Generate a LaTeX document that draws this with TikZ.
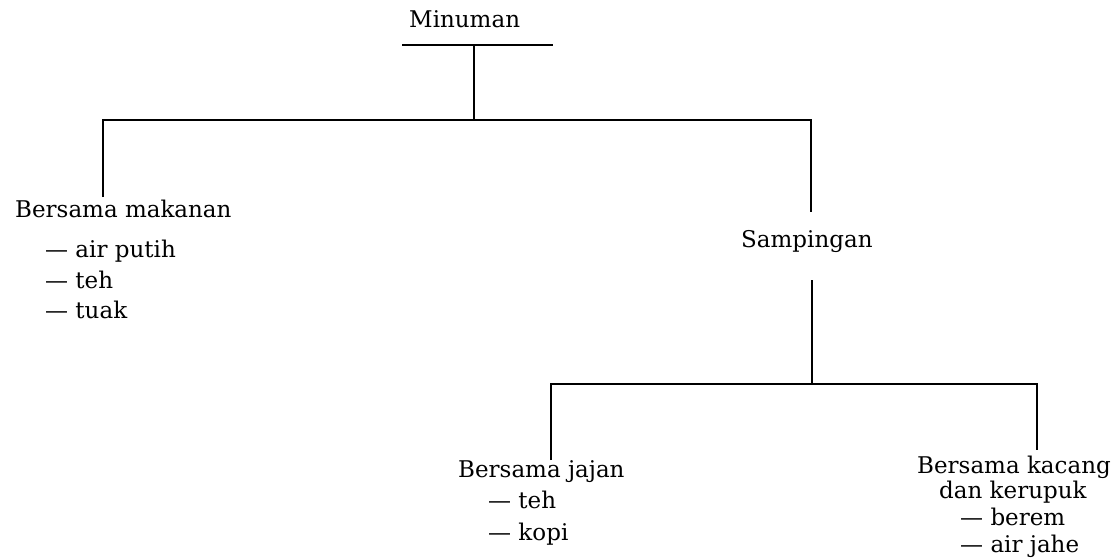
\documentclass[tikz,border=0pt]{standalone}
\usepackage{fontspec}
\setmainfont{DejaVu Serif}
\begin{document}
\begin{tikzpicture}[x=1pt,y=-1pt,
  lbl/.style={anchor=base west,inner sep=0pt,font=\fontsize{23}{26}\selectfont},
  tree/.style={line width=2.6pt,line cap=butt}]
\useasboundingbox (0,0) rectangle (1113,558);
% text nodes
\node[lbl] (minuman) at (409,27) {Minuman};
\node[lbl] (bm) at (15,217) {Bersama makanan};
\node[lbl] (bm1) at (45,257) {— air putih};
\node[lbl] (bm2) at (45,288) {— teh};
\node[lbl] (bm3) at (45,318) {— tuak};
\node[lbl] (samp) at (741,247) {Sampingan};
\node[lbl] (bj) at (458,477) {Bersama jajan};
\node[lbl] (bj1) at (488,508) {— teh};
\node[lbl] (bj2) at (488,540) {— kopi};
\node[lbl] (bk) at (917,473) {Bersama kacang};
\node[lbl] (bkb) at (939,498) {dan kerupuk};
\node[lbl] (bk1) at (960,525) {— berem};
\node[lbl] (bk2) at (960,552) {— air jahe};
% junction coordinates
\coordinate (ulL) at (402,45);
\coordinate (ulR) at (553,45);
\coordinate (ulM) at (474,45);
\coordinate (j1) at (474,120);
\coordinate (j1L) at (103,120);
\coordinate (j1R) at (811,120);
\coordinate (bmTop) at (103,197);
\coordinate (sampTop) at (811,212);
\coordinate (sampBot) at (812,280);
\coordinate (j2) at (812,384);
\coordinate (j2L) at (551,384);
\coordinate (j2R) at (1037,384);
\coordinate (bjTop) at (551,460);
\coordinate (bkTop) at (1037,450);
% connectors
\draw[tree] (ulL) -- (ulR);
\draw[tree] (ulM) -- (j1);
\draw[tree] (bmTop) -- (j1L) -- (j1R) -- (sampTop);
\draw[tree] (sampBot) -- (j2);
\draw[tree] (bjTop) -- (j2L) -- (j2R) -- (bkTop);
\end{tikzpicture}
\end{document}
